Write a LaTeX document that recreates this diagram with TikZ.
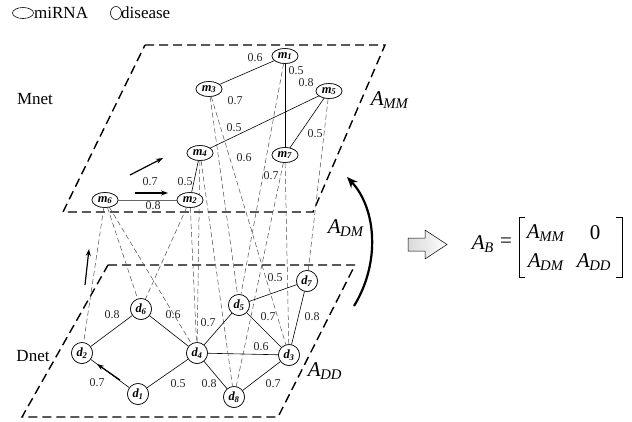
\documentclass[tikz,border=0pt]{standalone}
\usepackage{fontspec}
\setmainfont{Liberation Serif}
\usetikzlibrary{shapes.geometric,arrows.meta}
\newcommand\Asb[1]{\textit{A}\kern-0.5pt\textsubscript{\textit{#1}}}
\newcommand\nl[2]{\textbf{\textit{#1}}\kern-0.3pt\textsubscript{\textbf{\textit{#2}}}}
\tikzset{
  mnode/.style={ellipse, draw, line width=0.6pt, minimum width=26pt, minimum height=15pt, inner sep=0pt, fill=white, font=\fontsize{12.5}{12.5}\selectfont},
  dnode/.style={circle, draw, line width=0.6pt, minimum size=21pt, inner sep=0pt, fill=white, font=\fontsize{12.5}{12.5}\selectfont},
  plane/.style={line width=1.4pt, dash pattern=on 9pt off 5pt},
  link/.style={line width=0.6pt},
  cross/.style={line width=0.5pt, dash pattern=on 5pt off 3pt, black!70},
  wlab/.style={font=\fontsize{12}{12}\selectfont, inner sep=0pt, text=black!85},
  alab/.style={font=\fontsize{21}{21}\selectfont, inner sep=0pt},
  smallarrow/.style={line width=1.2pt, -{Stealth[length=7pt,width=5pt]}},
  txt/.style={font=\fontsize{17}{17}\selectfont, inner sep=0pt}
}
\begin{document}
\begin{tikzpicture}[x=1pt,y=-1pt]
\useasboundingbox (0,0) rectangle (632,421);
% legend
\node[ellipse, draw, line width=0.6pt, minimum width=21pt, minimum height=11pt, inner sep=0pt] (lg1) at (23,13) {};
\node[txt, anchor=west] (lg1t) at (34,13) {miRNA};
\node[ellipse, draw, line width=0.6pt, minimum width=11pt, minimum height=13pt, inner sep=0pt] (lg2) at (116,13) {};
\node[txt, anchor=west] (lg2t) at (121,13) {disease};
\node[txt] (mnet) at (35,99) {Mnet};
\node[txt] (dnet) at (33,356) {Dnet};
% planes
\draw[plane] (145,45) -- (385,45) -- (313,212) -- (63,212) -- cycle;
\draw[plane] (108,265) -- (355,265) -- (278,417) -- (22,417) -- cycle;
% nodes
\node[mnode] (m1) at (285,56) {\nl{m}{1}};
\node[mnode] (m3) at (209,89) {\nl{m}{3}};
\node[mnode] (m5) at (329,91) {\nl{m}{5}};
\node[mnode] (m4) at (200,153) {\nl{m}{4}};
\node[mnode] (m7) at (285,155) {\nl{m}{7}};
\node[mnode] (m6) at (105,200) {\nl{m}{6}};
\node[mnode] (m2) at (190,200) {\nl{m}{2}};
\node[dnode] (d7) at (307,281) {\nl{d}{7}};
\node[dnode] (d6) at (141,309) {\nl{d}{6}};
\node[dnode] (d5) at (239,305) {\nl{d}{5}};
\node[dnode] (d2) at (82,353) {\nl{d}{2}};
\node[dnode] (d4) at (197,353) {\nl{d}{4}};
\node[dnode] (d3) at (289,355) {\nl{d}{3}};
\node[dnode] (d1) at (138,394) {\nl{d}{1}};
\node[dnode] (d8) at (234,397) {\nl{d}{8}};
% cross links
\foreach \a/\b in {m6/d2, m6/d6, m6/d4, m2/d6, m2/d4, m4/d4, m4/d8, m3/d5, m3/d3, m1/d5, m7/d8, m7/d3, m5/d7}
  \draw[cross] (\a) -- (\b);
% solid edges
\foreach \a/\b in {m1/m3, m1/m7, m5/m4, m5/m7, m4/m2, d2/d6, d6/d4, d2/d1, d1/d4, d4/d5, d5/d7, d5/d3, d7/d3, d4/d3, d4/d8, d8/d3}
  \draw[link] (\a) -- (\b);
\draw[link, black!60] (m6) -- (m2);
% redraw nodes on top
\node[mnode] at (m1) {\nl{m}{1}};
\node[mnode] at (m3) {\nl{m}{3}};
\node[mnode] at (m5) {\nl{m}{5}};
\node[mnode] at (m4) {\nl{m}{4}};
\node[mnode] at (m7) {\nl{m}{7}};
\node[mnode] at (m6) {\nl{m}{6}};
\node[mnode] at (m2) {\nl{m}{2}};
\node[dnode] at (d7) {\nl{d}{7}};
\node[dnode] at (d6) {\nl{d}{6}};
\node[dnode] at (d5) {\nl{d}{5}};
\node[dnode] at (d2) {\nl{d}{2}};
\node[dnode] at (d4) {\nl{d}{4}};
\node[dnode] at (d3) {\nl{d}{3}};
\node[dnode] at (d1) {\nl{d}{1}};
\node[dnode] at (d8) {\nl{d}{8}};
% weight labels top
\node[wlab] (t1) at (255,58) {0.6};
\node[wlab] (t2) at (296,71) {0.5};
\node[wlab] (t3) at (306,83) {0.8};
\node[wlab] (t4) at (235,101) {0.7};
\node[wlab] (t5) at (234,128) {0.5};
\node[wlab] (t6) at (315,134) {0.5};
\node[wlab] (t7) at (244,158) {0.6};
\node[wlab] (t8) at (271,176) {0.7};
\node[wlab] (t9) at (150,182) {0.7};
\node[wlab] (t10) at (185,182) {0.5};
\node[wlab] (t11) at (153,206) {0.8};
% weight labels bottom
\node[wlab] (b1) at (112,315) {0.8};
\node[wlab] (b2) at (173,315) {0.6};
\node[wlab] (b3) at (208,323) {0.7};
\node[wlab] (b4) at (97,383) {0.7};
\node[wlab] (b5) at (178,384) {0.5};
\node[wlab] (b6) at (209,384) {0.8};
\node[wlab] (b7) at (261,347) {0.6};
\node[wlab] (b8) at (275,278) {0.5};
\node[wlab] (b9) at (268,317) {0.7};
\node[wlab] (b10) at (312,317) {0.8};
\node[wlab] (b11) at (273,384) {0.7};
% small arrows
\coordinate (a1s) at (130,175); \coordinate (a1e) at (163,158);
\coordinate (a2s) at (135,193); \coordinate (a2e) at (168,193);
\coordinate (a3s) at (85,285); \coordinate (a3e) at (89,249);
\coordinate (a4s) at (120,380); \coordinate (a4e) at (97,364);
\draw[smallarrow] (a1s) -- (a1e);
\draw[smallarrow] (a2s) -- (a2e);
\draw[smallarrow] (a3s) -- (a3e);
\draw[smallarrow] (a4s) -- (a4e);
% A labels
\node[alab] (amm) at (390,100) {\Asb{MM}};
\node[alab] (adm) at (346,228) {\Asb{DM}};
\node[alab] (add) at (325,371) {\Asb{DD}};
% curved arrow
\coordinate (cs) at (354,306); \coordinate (ce) at (347,177);
\draw[line width=2.2pt, -{Stealth[length=11pt,width=9pt]}] (cs) .. controls (381,262) and (376,208) .. (ce);
% block arrow
\draw[line width=0.5pt, left color=gray!30, right color=white] (408,238) -- (425,238) -- (425,230) -- (447,244.5) -- (425,259) -- (425,251) -- (408,251) -- cycle;
% matrix
\node[alab, anchor=east] (ab) at (494,244) {\Asb{B}};
\node[alab] (eq) at (506,243) {=};
\draw[line width=0.6pt] (525,217) -- (519,217) -- (519,277) -- (525,277);
\draw[line width=0.6pt] (616,217) -- (622,217) -- (622,277) -- (616,277);
\node[alab] (e11) at (546,233) {\Asb{MM}};
\node[alab] (e12) at (595,233) {0};
\node[alab] (e21) at (546,262) {\Asb{DM}};
\node[alab] (e22) at (594,262) {\Asb{DD}};
\end{tikzpicture}
\end{document}
